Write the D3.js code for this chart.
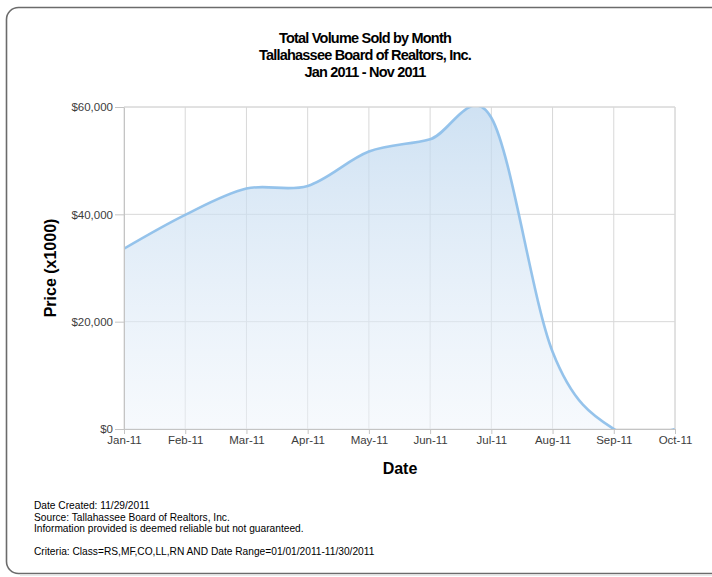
<!DOCTYPE html>
<html>
<head>
<meta charset="utf-8">
<script src="https://cdn.jsdelivr.net/npm/d3@7"></script>
<style>
  html, body { margin: 0; padding: 0; background: #fff; }
  svg { display: block; }
  text { font-family: "Liberation Sans", Arial, sans-serif; }
</style>
</head>
<body>
<svg id="chart" width="712" height="577"></svg>
<script>
const months = ["Jan-11","Feb-11","Mar-11","Apr-11","May-11","Jun-11","Jul-11","Aug-11","Sep-11","Oct-11"];
const volume = [33600, 39900, 44800, 45300, 51700, 54000, 58000, 14400, 0, 0];
const yTicks = [0, 20000, 40000, 60000];
const titleLines = ["Total Volume Sold by Month", "Tallahassee Board of Realtors, Inc.", "Jan 2011 - Nov 2011"];
const footerLines = [
  "Date Created: 11/29/2011",
  "Source: Tallahassee Board of Realtors, Inc.",
  "Information provided is deemed reliable but not guaranteed."
];
const criteriaLine = "Criteria: Class=RS,MF,CO,LL,RN AND Date Range=01/01/2011-11/30/2011";

const svg = d3.select("#chart");
const M = {left: 124, right: 675, top: 107, bottom: 429};

// frame
svg.append("rect")
  .attr("x", 6.5).attr("y", 7.5).attr("width", 740).attr("height", 566)
  .attr("rx", 12).attr("ry", 12)
  .attr("fill", "#fff").attr("stroke", "#6b6b6b").attr("stroke-width", 1.6);
svg.append("line").attr("x1", 20).attr("x2", 712).attr("y1", 575).attr("y2", 575)
  .attr("stroke", "#e2e2e2").attr("stroke-width", 1.5);

// title
svg.append("g").selectAll("text").data(titleLines).join("text")
  .attr("x", 365).attr("y", (d, i) => 43 + i * 17)
  .attr("text-anchor", "middle")
  .attr("font-size", 14.5).attr("font-weight", "bold")
  .attr("letter-spacing", -0.8)
  .attr("fill", "#000")
  .text(d => d);

const x = d3.scalePoint().domain(months).range([M.left, M.right]);
const y = d3.scaleLinear().domain([0, 60000]).range([M.bottom, M.top]);

// gridlines
const grid = svg.append("g");
grid.selectAll("line.v").data(months).join("line")
  .attr("x1", d => x(d)).attr("x2", d => x(d))
  .attr("y1", M.top).attr("y2", M.bottom)
  .attr("stroke", "#d8d8d8").attr("stroke-width", 1);
grid.selectAll("line.h").data(yTicks).join("line")
  .attr("x1", M.left).attr("x2", M.right)
  .attr("y1", d => y(d)).attr("y2", d => y(d))
  .attr("stroke", "#d8d8d8").attr("stroke-width", 1);

// gradient
const defs = svg.append("defs");
const grad = defs.append("linearGradient").attr("id", "fillGrad")
  .attr("gradientUnits", "userSpaceOnUse")
  .attr("x1", 0).attr("x2", 0).attr("y1", M.top).attr("y2", M.bottom);
grad.append("stop").attr("offset", "0%").attr("stop-color", "#bcd6ee").attr("stop-opacity", 0.72);
grad.append("stop").attr("offset", "100%").attr("stop-color", "#eef4fb").attr("stop-opacity", 0.5);
defs.append("clipPath").attr("id", "plotClip").append("rect")
  .attr("x", M.left).attr("y", M.top).attr("width", M.right - M.left).attr("height", M.bottom - M.top);

const pts = months.map((m, i) => ({m, v: volume[i]}));
const curve = d3.curveCatmullRom.alpha(0);
const area = d3.area().x(d => x(d.m)).y0(y(0)).y1(d => y(d.v)).curve(curve);
const line = d3.line().x(d => x(d.m)).y(d => y(d.v)).curve(curve);

const plot = svg.append("g").attr("clip-path", "url(#plotClip)");
plot.append("path").datum(pts).attr("d", area).attr("fill", "url(#fillGrad)");
plot.append("path").datum(pts).attr("d", line)
  .attr("fill", "none").attr("stroke", "#8fc0ea").attr("stroke-width", 2.6)
  .attr("stroke-opacity", 0.95);

// axes
const yAxis = svg.append("g").attr("transform", `translate(${M.left},0)`)
  .call(d3.axisLeft(y).tickValues(yTicks).tickSize(9).tickPadding(2)
    .tickFormat(d => "$" + d3.format(",")(d)));
const xAxis = svg.append("g").attr("transform", `translate(0,${M.bottom})`)
  .call(d3.axisBottom(x).tickSize(5).tickPadding(2));
[yAxis, xAxis].forEach(a => {
  a.select(".domain").attr("stroke", "#c4c4c4");
  a.selectAll(".tick line").attr("stroke", "#c4c4c4");
  a.selectAll(".tick text").attr("fill", "#3c3c3c").attr("font-size", 11.5)
    .attr("font-family", "'Liberation Sans', Arial, sans-serif");
});
// top/right border of plot
svg.append("line").attr("x1", M.left).attr("x2", M.right).attr("y1", M.top).attr("y2", M.top)
  .attr("stroke", "#d8d8d8");
svg.append("line").attr("x1", M.right).attr("x2", M.right).attr("y1", M.top).attr("y2", M.bottom)
  .attr("stroke", "#d8d8d8");

// axis titles
svg.append("text").attr("transform", "translate(56,268) rotate(-90)")
  .attr("text-anchor", "middle").attr("font-size", 16).attr("font-weight", "bold")
  .attr("fill", "#000").text("Price (x1000)");
svg.append("text").attr("x", 400).attr("y", 474)
  .attr("text-anchor", "middle").attr("font-size", 16).attr("font-weight", "bold")
  .attr("fill", "#000").text("Date");

// footer
svg.append("g").selectAll("text").data(footerLines).join("text")
  .attr("x", 34).attr("y", (d, i) => 509 + i * 11.5)
  .attr("font-size", 10.2).attr("fill", "#000").text(d => d);
svg.append("text").attr("x", 34).attr("y", 555)
  .attr("font-size", 10.2).attr("fill", "#000").text(criteriaLine);
</script>
</body>
</html>
